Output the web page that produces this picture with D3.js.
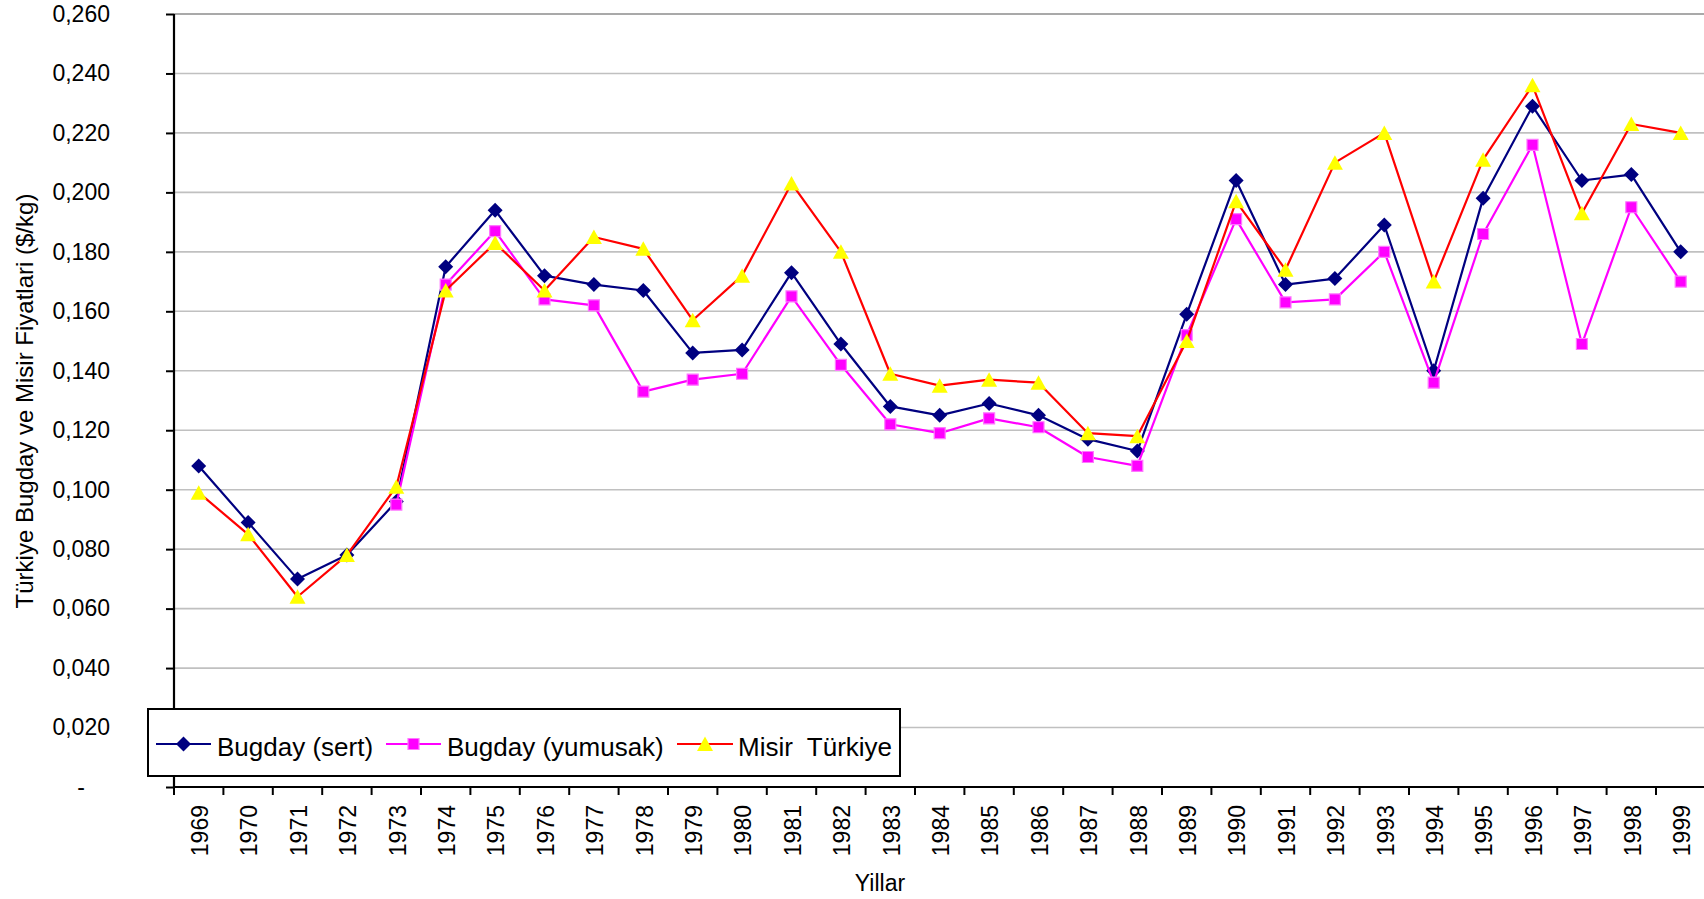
<!DOCTYPE html>
<html>
<head>
<meta charset="utf-8">
<script src="https://cdn.jsdelivr.net/npm/d3@7"></script>
<style>
  html, body { margin: 0; padding: 0; background: #fff; overflow: hidden; }
  svg { display: block; font-family: Arial, "Liberation Sans", sans-serif; }
</style>
</head>
<body>
<svg id="chart" width="1704" height="899"></svg>
<script>
const years = [1969,1970,1971,1972,1973,1974,1975,1976,1977,1978,1979,1980,1981,1982,1983,1984,1985,1986,1987,1988,1989,1990,1991,1992,1993,1994,1995,1996,1997,1998,1999];
const bugdaySert = [0.108,0.089,0.070,0.078,0.096,0.175,0.194,0.172,0.169,0.167,0.146,0.147,0.173,0.149,0.128,0.125,0.129,0.125,0.117,0.113,0.159,0.204,0.169,0.171,0.189,0.140,0.198,0.229,0.204,0.206,0.180];
const bugdayYumusak = [null,null,null,null,0.095,0.169,0.187,0.164,0.162,0.133,0.137,0.139,0.165,0.142,0.122,0.119,0.124,0.121,0.111,0.108,0.152,0.191,0.163,0.164,0.180,0.136,0.186,0.216,0.149,0.195,0.170];
const misirTurkiye = [0.099,0.085,0.064,0.078,0.101,0.167,0.183,0.167,0.185,0.181,0.157,0.172,0.203,0.180,0.139,0.135,0.137,0.136,0.119,0.118,0.150,0.197,0.174,0.210,0.220,0.170,0.211,0.236,0.193,0.223,0.220];
const yTicks = [0,0.02,0.04,0.06,0.08,0.10,0.12,0.14,0.16,0.18,0.20,0.22,0.24,0.26];
const seriesNames = ["Bugday (sert)", "Bugday (yumusak)", "Misir  Türkiye"];
const yTitle = "Türkiye Bugday ve Misir Fiyatlari ($/kg)";
const xTitle = "Yillar";

const svg = d3.select("#chart");
const x = d3.scaleBand().domain(years).range([174, 1705.4]).padding(0);
const y = d3.scaleLinear().domain([0, 0.26]).range([787, 14]);
const cx = d => x(d) + x.bandwidth() / 2;

const fmt = v => v === 0 ? "-" : d3.format(".3f")(v).replace(".", ",");

// gridlines
svg.append("g").selectAll("line").data(yTicks.filter(v => v > 0)).join("line")
  .attr("x1", 174).attr("x2", 1705)
  .attr("y1", d => y(d)).attr("y2", d => y(d))
  .attr("stroke", d => d === 0.26 ? "#8c8c8c" : "#c0c0c0")
  .attr("stroke-width", 1.6);

// y axis
const yAxis = svg.append("g").attr("transform", "translate(174,0)")
  .call(d3.axisLeft(y).tickValues(yTicks).tickSize(8).tickPadding(56).tickFormat(fmt));
yAxis.select(".domain").attr("stroke", "#000").attr("stroke-width", 2.2).attr("d", `M0,${y(0.26)}V${y(0)}`);
yAxis.selectAll(".tick line").attr("stroke", "#000").attr("stroke-width", 2);
yAxis.selectAll(".tick text").attr("font-size", 23).attr("fill", "#000")
  .attr("font-family", "Arial, 'Liberation Sans', sans-serif")
  .attr("dx", d => d === 0 ? -25 : 0);

// x axis labels
const xAxis = svg.append("g").attr("transform", `translate(0,${y(0)})`)
  .call(d3.axisBottom(x).tickSize(0));
xAxis.select(".domain").attr("stroke", "#000").attr("stroke-width", 2.2).attr("d", `M174,0H1705`);
xAxis.selectAll(".tick text")
  .attr("font-size", 23).attr("fill", "#000")
  .attr("font-family", "Arial, 'Liberation Sans', sans-serif")
  .attr("x", 0).attr("y", 0).attr("dy", "0.36em")
  .attr("transform", "translate(1,18) rotate(-90)")
  .style("text-anchor", "end");
// x tick marks at category boundaries
svg.append("g").selectAll("line").data(years.map(d => x(d)).concat([x.range()[1]])).join("line")
  .attr("x1", d => d).attr("x2", d => d)
  .attr("y1", y(0)).attr("y2", y(0) + 8)
  .attr("stroke", "#000").attr("stroke-width", 2);

// titles
svg.append("text").attr("transform", "translate(24,401) rotate(-90)")
  .attr("text-anchor", "middle").attr("dominant-baseline", "central")
  .attr("font-size", 24).attr("fill", "#000").text(yTitle);
svg.append("text").attr("x", 880).attr("y", 891)
  .attr("text-anchor", "middle").attr("font-size", 23).attr("fill", "#000").text(xTitle);

// markers
const diamond = "M0,-7.5L7.5,0L0,7.5L-7.5,0Z";
const square = "M-5.5,-5.5H5.5V5.5H-5.5Z";
const triangle = "M0,-7.5L8,7L-8,7Z";

const series = [
  { name: seriesNames[0], values: bugdaySert, line: "#000080", fill: "#000080", stroke: "#000080", shape: diamond, sw: 0 },
  { name: seriesNames[1], values: bugdayYumusak, line: "#FF00FF", fill: "#FF00FF", stroke: "#FF77FF", shape: square, sw: 1.2 },
  { name: seriesNames[2], values: misirTurkiye, line: "#FF0000", fill: "#FFFF00", stroke: "none", shape: triangle, sw: 0 }
];

const lineGen = d3.line()
  .defined(d => d.v !== null)
  .x(d => cx(d.year)).y(d => y(d.v));

series.forEach(s => {
  const pts = years.map((yr, i) => ({ year: yr, v: s.values[i] }));
  const g = svg.append("g");
  g.append("path").datum(pts).attr("d", lineGen)
    .attr("fill", "none").attr("stroke", s.line).attr("stroke-width", 2.2)
    .attr("stroke-linejoin", "round");
  g.selectAll("path.mk").data(pts.filter(d => d.v !== null)).join("path")
    .attr("class", "mk")
    .attr("d", s.shape)
    .attr("transform", d => `translate(${cx(d.year)},${y(d.v)})`)
    .attr("fill", s.fill).attr("stroke", s.stroke).attr("stroke-width", s.sw);
});

// legend
const lg = svg.append("g");
lg.append("rect").attr("x", 148).attr("y", 709).attr("width", 752).attr("height", 67)
  .attr("fill", "#fff").attr("stroke", "#000").attr("stroke-width", 2);
const legendItems = [
  { x0: 156, x1: 211, tx: 217 },
  { x0: 386, x1: 441, tx: 447 },
  { x0: 677, x1: 733, tx: 738 }
];
series.forEach((s, i) => {
  const li = legendItems[i];
  const ly = 744;
  lg.append("line").attr("x1", li.x0).attr("x2", li.x1).attr("y1", ly).attr("y2", ly)
    .attr("stroke", s.line).attr("stroke-width", 2.2);
  lg.append("path").attr("d", s.shape)
    .attr("transform", `translate(${(li.x0 + li.x1) / 2},${ly})`)
    .attr("fill", s.fill).attr("stroke", s.stroke).attr("stroke-width", s.sw);
  lg.append("text").attr("x", li.tx).attr("y", 755.5)
    .attr("font-size", 26).attr("fill", "#000")
    .style("white-space", "pre").attr("xml:space", "preserve")
    .text(s.name);
});
</script>
</body>
</html>
